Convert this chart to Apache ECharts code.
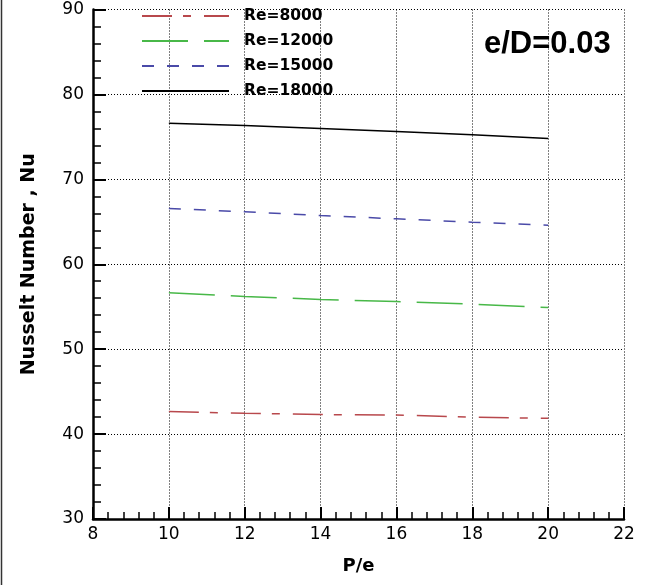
<!DOCTYPE html>
<html>
<head>
<meta charset="utf-8">
<style>
  html, body { margin: 0; padding: 0; background: #fff; }
  #chart { width: 645px; height: 585px; }
</style>
<script src="https://cdn.jsdelivr.net/npm/echarts@6/dist/echarts.min.js"></script>
</head>
<body>
<div id="chart"></div>
<script>
// Pitch ratio P/e and the Nusselt number for each Reynolds number (e/D = 0.03)
const pitchRatio = [10, 12, 14, 16, 18, 20];
const nuRe8000  = [42.65, 42.45, 42.3, 42.25, 42.0, 41.85];
const nuRe12000 = [56.65, 56.2, 55.86, 55.6, 55.3, 54.9];
const nuRe15000 = [66.56, 66.18, 65.74, 65.35, 64.96, 64.6];
const nuRe18000 = [76.6, 76.33, 75.98, 75.62, 75.24, 74.8];
const seriesNames = ['Re=8000', 'Re=12000', 'Re=15000', 'Re=18000'];

const FONT = 'DejaVu Sans';

function pairs(ys) { return pitchRatio.map((x, i) => [x, ys[i]]); }

function lineSeries(name, ys, color, dash) {
  return {
    name: name,
    type: 'line',
    data: pairs(ys),
    symbol: 'none',
    lineStyle: { color: color, width: 1.5, type: dash },
    itemStyle: { color: color },
    emphasis: { disabled: true }
  };
}

const chart = echarts.init(document.getElementById('chart'), null, { renderer: 'canvas' });

chart.setOption({
  animation: false,
  backgroundColor: '#ffffff',
  grid: { left: 93, right: 21, top: 9.5, bottom: 66, containLabel: false },
  title: {
    text: 'e/D=0.03',
    left: 479, top: 24,
    textStyle: { fontFamily: 'Liberation Sans', fontWeight: 'bold', fontSize: 31, color: '#000' }
  },
  legend: {
    show: true,
    orient: 'vertical',
    left: 136, top: 3,
    itemWidth: 87, itemHeight: 12,
    itemGap: 9,
    selectedMode: false,
    itemStyle: { opacity: 0, borderWidth: 0 },
    textStyle: { fontFamily: FONT, fontWeight: 'bold', fontSize: 15.5, color: '#000', padding: [0, 0, 0, 10] },
    data: seriesNames
  },
  xAxis: {
    type: 'value',
    min: 8, max: 22, interval: 2,
    name: 'P/e',
    nameLocation: 'middle',
    nameGap: 38,
    nameTextStyle: { fontFamily: FONT, fontWeight: 'bold', fontSize: 18, color: '#000' },
    axisLine: { show: true, onZero: false, lineStyle: { color: '#000', width: 2.5 } },
    axisTick: { show: true, inside: true, length: 12, lineStyle: { color: '#000', width: 2 } },
    minorTick: { show: true, splitNumber: 5, length: 7, lineStyle: { color: '#000', width: 1.5 } },
    axisLabel: { margin: 7, fontFamily: FONT, fontSize: 17, color: '#000' },
    splitLine: { show: true, lineStyle: { color: '#000', width: 1, type: [1, 2] } }
  },
  yAxis: {
    type: 'value',
    min: 30, max: 90, interval: 10,
    name: 'Nusselt Number , Nu',
    nameLocation: 'middle',
    nameGap: 54,
    nameTextStyle: { fontFamily: FONT, fontWeight: 'bold', fontSize: 19, color: '#000' },
    axisLine: { show: true, onZero: false, lineStyle: { color: '#000', width: 2.5 } },
    axisTick: { show: true, inside: true, length: 13, lineStyle: { color: '#000', width: 2 } },
    minorTick: { show: true, splitNumber: 5, length: 8, lineStyle: { color: '#000', width: 1.5 } },
    axisLabel: { margin: 9, fontFamily: FONT, fontSize: 17, color: '#000' },
    splitLine: { show: true, lineStyle: { color: '#000', width: 1, type: [1, 2] } }
  },
  graphic: [{
    type: 'line',
    shape: { x1: 1.5, y1: 0, x2: 1.5, y2: 585 },
    style: { stroke: '#333', lineWidth: 1.5 },
    silent: true
  }],
  series: [
    lineSeries(seriesNames[0], nuRe8000,  '#b8484c', [30, 11, 8, 13]),
    lineSeries(seriesNames[1], nuRe12000, '#48b848', [46, 16]),
    lineSeries(seriesNames[2], nuRe15000, '#4a4aa8', [12, 13]),
    lineSeries(seriesNames[3], nuRe18000, '#000000', 'solid')
  ]
});
</script>
</body>
</html>
